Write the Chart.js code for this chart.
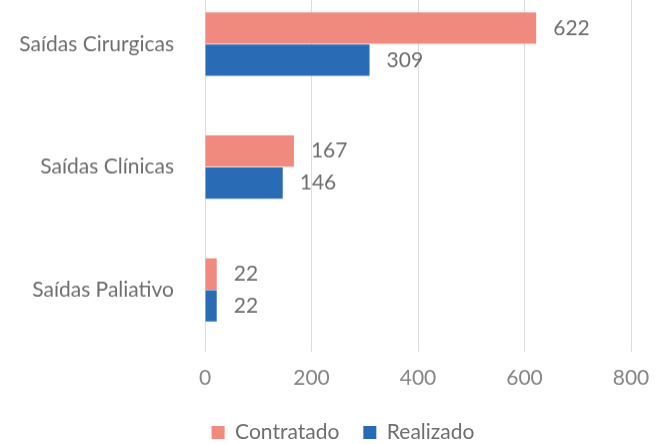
<!DOCTYPE html>
<html>
<head>
<meta charset="utf-8">
<script src="https://cdn.jsdelivr.net/npm/chart.js@4"></script>
<style>
  html, body { margin: 0; padding: 0; background: #fff; overflow: hidden; }
  /* canvas runs past the window top and bottom: the original is a cropped scan */
  #wrap { position: absolute; left: 0; top: -52.6px; width: 664px; height: 505.1px; }
</style>
</head>
<body>
<div id="wrap"><canvas id="barChart"></canvas></div>
<script>
const categories = ['Saídas Cirurgicas', 'Saídas Clínicas', 'Saídas Paliativo'];
const contratado = [622, 167, 22];
const realizado  = [309, 146, 22];
const xTicks     = [0, 200, 400, 600, 800];

const textColor  = '#6e6e6e';
const tickColor  = '#858585';
const gridColor  = '#dcdcdc';

// value labels drawn just past the end of each bar
const valueLabels = {
  id: 'valueLabels',
  afterDatasetsDraw(chart) {
    const ctx = chart.ctx;
    ctx.save();
    ctx.font = '21px Lato';
    ctx.fillStyle = textColor;
    ctx.textBaseline = 'middle';
    chart.data.datasets.forEach((ds, i) => {
      chart.getDatasetMeta(i).data.forEach((bar, j) => {
        ctx.fillText(ds.data[j], bar.x + 17, bar.y);
      });
    });
    ctx.restore();
  }
};

// legend sits a bit right of the canvas centre in the original
const legendShift = {
  id: 'legendShift',
  afterLayout(chart) {
    const lg = chart.legend;
    const dx = 343 - (lg.left + lg.right) / 2;
    lg.left += dx;
    lg.right += dx;
  }
};

new Chart(document.getElementById('barChart'), {
  type: 'bar',
  data: {
    labels: categories,
    datasets: [
      { label: 'Contratado', data: contratado, backgroundColor: '#f08a7e' },
      { label: 'Realizado',  data: realizado,  backgroundColor: '#2a6bb5' }
    ]
  },
  options: {
    indexAxis: 'y',
    responsive: true,
    maintainAspectRatio: false,
    animation: false,
    categoryPercentage: 0.52,
    barPercentage: 0.98,
    layout: { autoPadding: false, padding: { top: 0, right: 33, left: 0, bottom: 0 } },
    plugins: {
      legend: {
        position: 'bottom',
        labels: {
          color: textColor,
          font: { family: 'Lato', size: 21 },
          boxWidth: 13,
          boxHeight: 13,
          padding: 24
        }
      },
      tooltip: { enabled: false }
    },
    scales: {
      x: {
        min: 0,
        max: 800,
        afterBuildTicks: axis => { axis.ticks = xTicks.map(v => ({ value: v })); },
        afterFit: axis => { axis.height = 46.5; },
        ticks: { color: tickColor, font: { family: 'Lato', size: 21 }, padding: 14 },
        grid: { color: gridColor, drawTicks: false },
        border: { display: false }
      },
      y: {
        afterFit: axis => { axis.width = 205; },
        ticks: { color: textColor, font: { family: 'Lato', size: 21 }, padding: 23 },
        grid: { display: false },
        border: { display: false }
      }
    }
  },
  plugins: [valueLabels, legendShift]
});
</script>
</body>
</html>
